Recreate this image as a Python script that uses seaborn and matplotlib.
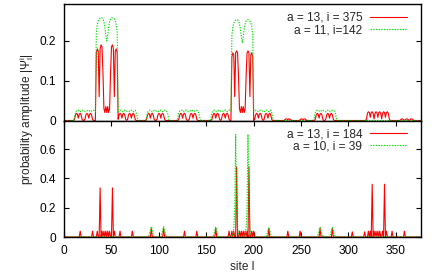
import numpy as np
import pandas as pd
import matplotlib
matplotlib.use("Agg")
import matplotlib.pyplot as plt
import seaborn as sns

# ---------------- data ----------------
n_sites = 377

# top panel, a = 13, i = 375  (segments: start site, values)
top_red_segments = [
    (11, [0.003, 0.014, 0.018, 0.016, 0.006, 0.016, 0.018, 0.014, 0.003, 0.0, 0.0,
          0.003, 0.014, 0.018, 0.016, 0.006, 0.016, 0.018, 0.014, 0.003]),
    (34, [0.17, 0.18, 0.175, 0.06, 0.18, 0.19, 0.185, 0.12, 0.03, 0.02, 0.035,
          0.02, 0.035, 0.02, 0.03, 0.12, 0.185, 0.19, 0.18, 0.06, 0.175, 0.18, 0.17]),
    (57, [0.003, 0.014, 0.018, 0.016, 0.006, 0.016, 0.018, 0.014, 0.003, 0.0,
          0.003, 0.014, 0.018, 0.016, 0.006, 0.016, 0.018, 0.014, 0.003]),
    (87, [0.003, 0.014, 0.018, 0.016, 0.006, 0.016, 0.018, 0.014, 0.003, 0.0, 0.0,
          0.003, 0.014, 0.018, 0.016, 0.006, 0.016, 0.018, 0.014, 0.003, 0.0]),
    (121, [0.003, 0.014, 0.018, 0.016, 0.006, 0.016, 0.018, 0.014, 0.003, 0.0, 0.0,
           0.003, 0.014, 0.018, 0.016, 0.006, 0.016, 0.018, 0.014, 0.003, 0.0]),
    (156, [0.003, 0.014, 0.018, 0.016, 0.006, 0.016, 0.018, 0.014, 0.003, 0.0,
           0.003, 0.014, 0.018, 0.016, 0.006, 0.016, 0.018, 0.014, 0.003]),
    (177, [0.16, 0.17, 0.165, 0.06, 0.17, 0.175, 0.17, 0.11, 0.03, 0.02, 0.035,
           0.02, 0.035, 0.02, 0.03, 0.11, 0.17, 0.175, 0.17, 0.06, 0.165, 0.17, 0.16]),
    (201, [0.003, 0.014, 0.018, 0.016, 0.006, 0.016, 0.018, 0.014, 0.003, 0.0,
           0.003, 0.014, 0.018, 0.016, 0.006, 0.016, 0.018, 0.014, 0.003]),
    (233, [0.002, 0.004, 0.004, 0.002, 0.004, 0.004, 0.002]),
    (249, [0.002, 0.004, 0.004, 0.002, 0.004, 0.004, 0.002]),
    (265, [0.003, 0.014, 0.018, 0.016, 0.006, 0.016, 0.018, 0.014, 0.003, 0.0, 0.0,
           0.003, 0.014, 0.018, 0.016, 0.006, 0.016, 0.018, 0.014, 0.003]),
    (319, [0.004, 0.018, 0.022, 0.02, 0.008, 0.02, 0.022, 0.018, 0.004,
           0.018, 0.022, 0.02, 0.008, 0.02, 0.022, 0.018, 0.004,
           0.018, 0.022, 0.02, 0.008, 0.02, 0.022, 0.018, 0.004]),
    (355, [0.002, 0.004, 0.004, 0.002, 0.0, 0.002, 0.004, 0.004, 0.002, 0.0,
           0.002, 0.004, 0.004, 0.002]),
]

# top panel, a = 11, i = 142
top_green_segments = [
    (11, [0.008, 0.02, 0.024, 0.026, 0.026, 0.024, 0.022, 0.024, 0.026, 0.026,
          0.024, 0.022, 0.022, 0.024, 0.026, 0.026, 0.024, 0.022, 0.024, 0.026,
          0.026, 0.024, 0.022]),
    (34, [0.22, 0.24, 0.25, 0.255, 0.257, 0.258, 0.258, 0.255, 0.248, 0.235, 0.215,
          0.2, 0.215, 0.235, 0.248, 0.255, 0.258, 0.258, 0.257, 0.255, 0.25, 0.24, 0.22]),
    (57, [0.022, 0.024, 0.026, 0.026, 0.024, 0.022, 0.024, 0.026, 0.026, 0.024,
          0.022, 0.022, 0.024, 0.026, 0.026, 0.024, 0.022, 0.024, 0.026, 0.02, 0.008]),
    (87, [0.008, 0.02, 0.024, 0.026, 0.026, 0.024, 0.022, 0.024, 0.026, 0.026,
          0.024, 0.022, 0.022, 0.024, 0.026, 0.026, 0.024, 0.022, 0.024, 0.026,
          0.026, 0.024, 0.02, 0.008]),
    (120, [0.008, 0.02, 0.024, 0.026, 0.026, 0.024, 0.022, 0.024, 0.026, 0.026,
           0.024, 0.022, 0.022, 0.024, 0.026, 0.026, 0.024, 0.022, 0.024, 0.026,
           0.026, 0.024, 0.02, 0.008]),
    (155, [0.008, 0.02, 0.024, 0.026, 0.026, 0.024, 0.022, 0.024, 0.026, 0.026,
           0.024, 0.022, 0.022, 0.024, 0.026, 0.026, 0.024, 0.022, 0.024, 0.026,
           0.026, 0.024]),
    (177, [0.215, 0.235, 0.245, 0.25, 0.252, 0.253, 0.253, 0.25, 0.243, 0.23, 0.21,
           0.195, 0.21, 0.23, 0.243, 0.25, 0.253, 0.253, 0.252, 0.25, 0.245, 0.235, 0.215]),
    (200, [0.022, 0.024, 0.026, 0.026, 0.024, 0.022, 0.024, 0.026, 0.026, 0.024,
           0.022, 0.022, 0.024, 0.026, 0.026, 0.024, 0.022, 0.024, 0.026, 0.02, 0.008]),
    (264, [0.008, 0.02, 0.024, 0.026, 0.026, 0.024, 0.022, 0.024, 0.026, 0.026,
           0.024, 0.022, 0.022, 0.024, 0.026, 0.026, 0.024, 0.022, 0.024, 0.026,
           0.026, 0.024, 0.02, 0.008]),
]

# bottom panel, a = 13, i = 184 (single-site spikes)
bot_red_sites = [17, 30, 35, 38, 40, 42, 44, 46, 48, 51, 53, 59, 72, 92, 105, 127, 140,
                 160, 174, 177, 179, 182, 185, 187, 189, 191, 193, 195, 198, 200, 216,
                 236, 249, 270, 283, 304, 317, 321, 323, 325, 327, 329, 331, 333, 336,
                 338, 340, 346, 359]
bot_red_values = [0.04, 0.04, 0.04, 0.335, 0.04, 0.04, 0.04, 0.04, 0.04, 0.335, 0.04,
                  0.04, 0.04, 0.06, 0.06, 0.04, 0.04,
                  0.06, 0.04, 0.04, 0.04, 0.48, 0.04, 0.04, 0.04, 0.04, 0.04, 0.48,
                  0.04, 0.04, 0.06,
                  0.04, 0.04, 0.06, 0.06, 0.035, 0.035, 0.04, 0.04, 0.36, 0.04, 0.04,
                  0.04, 0.04, 0.04, 0.36, 0.04, 0.04, 0.04]

# bottom panel, a = 10, i = 39
bot_green_segments = [
    (90, [0.02, 0.045, 0.07, 0.045, 0.02]),
    (103, [0.02, 0.045, 0.07, 0.045, 0.02]),
    (158, [0.02, 0.045, 0.07, 0.045, 0.02]),
    (178, [0.02, 0.06, 0.2, 0.7, 0.2, 0.06, 0.02]),
    (191, [0.02, 0.06, 0.2, 0.7, 0.2, 0.06, 0.02]),
    (214, [0.02, 0.045, 0.065, 0.045, 0.02]),
    (268, [0.02, 0.045, 0.065, 0.045, 0.02]),
    (281, [0.02, 0.045, 0.065, 0.045, 0.02]),
]

top_labels = ["a = 13, i = 375", "a = 11, i=142"]
bot_labels = ["a = 13, i = 184", "a = 10, i = 39"]
x_ticks = [0, 50, 100, 150, 200, 250, 300, 350]
top_yticks = [0, 0.1, 0.2]
top_yticklabels = ["0", "0.1", "0.2"]
bot_yticks = [0, 0.2, 0.4, 0.6]
bot_yticklabels = ["0", "0.2", "0.4", "0.6"]

# ---------------- build series ----------------
sites = np.arange(n_sites)


def from_segments(segs):
    arr = np.zeros(n_sites)
    for start, vals in segs:
        arr[start:start + len(vals)] = vals
    return arr


top_red = from_segments(top_red_segments)
top_green = from_segments(top_green_segments)
bot_red = np.zeros(n_sites)
bot_red[bot_red_sites] = bot_red_values
bot_green = from_segments(bot_green_segments)

# ---------------- style ----------------
sns.set_theme(style="ticks")
plt.rcParams["font.family"] = ["Liberation Sans", "DejaVu Sans"]
plt.rcParams["mathtext.fontset"] = "custom"
plt.rcParams["mathtext.rm"] = "Liberation Sans"
plt.rcParams["mathtext.it"] = "Liberation Sans"
FS = 8.6

RED = "#ff0000"
GREEN = "#00e000"

fig = plt.figure(figsize=(4.36, 2.74), dpi=100)
ax1 = fig.add_axes([0.147, 0.5602, 0.8186, 0.4241])
ax2 = fig.add_axes([0.147, 0.135, 0.8186, 0.4252])


def draw(ax, yred, ygreen, labels):
    df_r = pd.DataFrame({"site": sites, "amp": yred})
    df_g = pd.DataFrame({"site": sites, "amp": ygreen})
    sns.lineplot(data=df_r, x="site", y="amp", ax=ax, color=RED, lw=0.8,
                 label=labels[0], estimator=None, sort=False, legend=False)
    sns.lineplot(data=df_g, x="site", y="amp", ax=ax, color=GREEN, lw=0.8,
                 dashes=(1.2, 1.2), label=labels[1], estimator=None, sort=False,
                 legend=False)
    ax.lines[-1].set_dashes((1.2, 1.2))
    leg = ax.legend(loc="upper right", bbox_to_anchor=(0.96, 0.935), frameon=False,
                    markerfirst=False, handlelength=3.05, handletextpad=0.67,
                    labelspacing=0.05, borderpad=0, borderaxespad=0, fontsize=FS)
    for line in leg.get_lines():
        line.set_linewidth(0.8)
    ax.set_xlim(0, 376.5)
    ax.set_xlabel("")
    ax.set_ylabel("")
    for sp in ax.spines.values():
        sp.set_visible(True)
        sp.set_linewidth(1.0)
        sp.set_color("black")
    ax.set_facecolor("white")
    ax.tick_params(direction="in", length=3.6, width=0.8, labelsize=FS, pad=5.5,
                   colors="black", left=True, right=True)


draw(ax1, top_red, top_green, top_labels)
draw(ax2, bot_red, bot_green, bot_labels)

ax1.set_ylim(0, 0.292)
ax1.set_yticks(top_yticks)
ax1.set_yticklabels(top_yticklabels)
ax1.set_xticks(x_ticks)
ax1.tick_params(axis="x", bottom=False, top=False, labelbottom=False)

ax2.set_ylim(0, 0.795)
ax2.set_yticks(bot_yticks)
ax2.set_yticklabels(bot_yticklabels)
ax2.set_xticks(x_ticks)
ax2.tick_params(axis="x", bottom=True, top=True)
ax2.set_xlabel("site l", fontsize=FS, labelpad=3)

fig.text(0.06, 0.565, r"probability amplitude $|\Psi^{\mathrm{i}}_{\mathrm{l}}|$",
         rotation=90, ha="center", va="center", fontsize=FS)

fig.savefig("out.png", dpi=100)
